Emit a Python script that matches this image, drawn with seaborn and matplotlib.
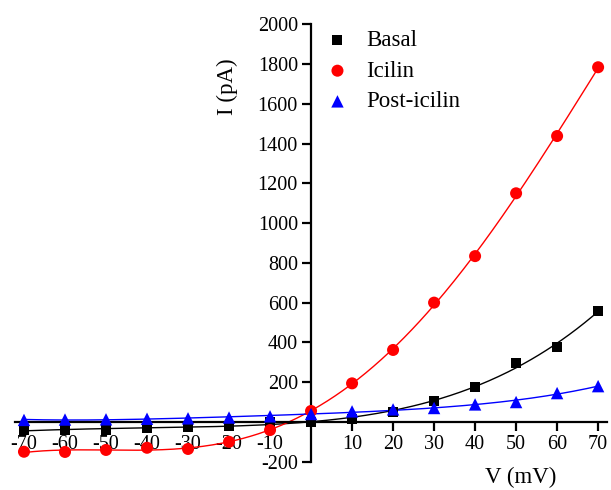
import numpy as np
import pandas as pd
import matplotlib
matplotlib.use("Agg")
import matplotlib.pyplot as plt
import seaborn as sns

voltage = [-70, -60, -50, -40, -30, -20, -10, 0, 10, 20, 30, 40, 50, 60, 70]
basal = [-41, -41, -41, -29, -24, -19, -2, 1, 15, 48, 107, 176, 298, 378, 558]
icilin = [-150, -151, -141, -130, -136, -100, -41, 55, 194, 362, 600, 834, 1150, 1438, 1784]
post_icilin = [10, 12, 13, 16, 18, 22, 28, 40, 53, 63, 70, 88, 100, 145, 180]

series_names = ["Basal", "Icilin", "Post-icilin"]
series_values = [basal, icilin, post_icilin]
colors = ["black", "red", "blue"]
markers = ["s", "o", "^"]
msizes = [52, 75, 80]
fit_degree = [4, 5, 4]

x_ticks = [-70, -60, -50, -40, -30, -20, -10, 10, 20, 30, 40, 50, 60, 70]
y_ticks = [-200, 200, 400, 600, 800, 1000, 1200, 1400, 1600, 1800, 2000]

sns.set_theme(style="white")
plt.rcParams["font.family"] = ["Liberation Serif", "DejaVu Serif"]
plt.rcParams["text.color"] = "black"
plt.rcParams["axes.labelcolor"] = "black"
plt.rcParams["xtick.color"] = "black"
plt.rcParams["ytick.color"] = "black"

fig = plt.figure(figsize=(6.11, 4.90), dpi=100)
ax = fig.add_axes([0.0245, 0.0578, 0.9685, 0.8926])

rows = []
for name, vals in zip(series_names, series_values):
    for v, i in zip(voltage, vals):
        rows.append({"V": v, "I": i, "series": name})
df = pd.DataFrame(rows)

xs = np.linspace(-70, 70, 300)
for name, vals, c, deg in zip(series_names, series_values, colors, fit_degree):
    coef = np.polyfit(voltage, vals, deg)
    fit = pd.DataFrame({"V": xs, "I": np.polyval(coef, xs)})
    sns.lineplot(data=fit, x="V", y="I", color=c, lw=1.0, ax=ax, legend=False)

for name, c, m, s in zip(series_names, colors, markers, msizes):
    sub = df[df["series"] == name]
    sns.scatterplot(data=sub, x="V", y="I", color=c, marker=m, s=s,
                    edgecolor="none", ax=ax, label=name, zorder=3)

ax.set_xlim(-72.2, 72.1)
ax.set_ylim(-200, 2000)
for sp in ["top", "right"]:
    ax.spines[sp].set_visible(False)
ax.spines["left"].set_position(("data", 0))
ax.spines["bottom"].set_position(("data", 0))
for sp in ["left", "bottom"]:
    ax.spines[sp].set_color("black")
    ax.spines[sp].set_linewidth(1.6)
ax.set_xticks(x_ticks)
ax.set_xticklabels([str(t) for t in x_ticks])
ax.set_yticks(y_ticks)
ax.set_yticklabels([str(t) for t in y_ticks])
ax.tick_params(axis="both", direction="out", length=6.5, width=1.6, color="black",
               labelsize=14.5, labelcolor="black", pad=3,
               left=True, bottom=True)
ax.set_xlabel("")
ax.set_ylabel("")
fig.text(521 / 611, 1 - 477 / 490, "V (mV)", fontsize=16.5, ha="center", va="center",
         color="black")
fig.text(227 / 611, 1 - 87 / 490, "I (pA)", fontsize=16.5, ha="center", va="center",
         rotation=90, color="black")

leg = ax.legend(loc="upper left", bbox_to_anchor=(326 / 611, 1 - 30 / 490),
                bbox_transform=fig.transFigure, frameon=False, fontsize=16.5,
                handlelength=1.0, handletextpad=0.75, labelspacing=0.42,
                borderaxespad=0, borderpad=0, labelcolor="black")

fig.savefig("out.png", dpi=100)
